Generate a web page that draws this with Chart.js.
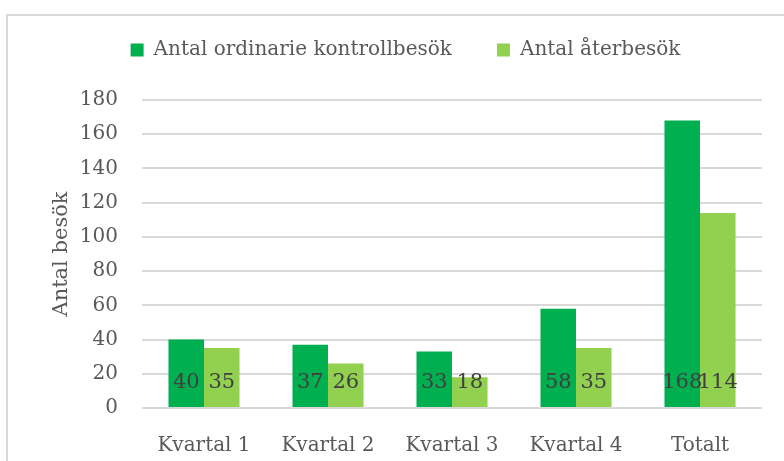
<!DOCTYPE html>
<html>
<head>
<meta charset="utf-8">
<script src="https://cdn.jsdelivr.net/npm/chart.js@4"></script>
<style>
  body { margin: 0; background: #fff; }
  #wrap { position: relative; width: 784px; height: 461px; overflow: hidden; }
  #frame { position: absolute; left: 6px; top: 14px; width: 820px; height: 480px; border: 2px solid #d9d9d9; box-sizing: border-box; }
  canvas { position: absolute; left: 0; top: 0; }
</style>
</head>
<body>
<div id="wrap">
  <div id="frame"></div>
  <canvas id="chart" width="784" height="461"></canvas>
</div>
<script>
const categories = ['Kvartal 1', 'Kvartal 2', 'Kvartal 3', 'Kvartal 4', 'Totalt'];
const ordinarie = [40, 37, 33, 58, 168];
const aterbesok = [35, 26, 18, 35, 114];
const yTicks = [0, 20, 40, 60, 80, 100, 120, 140, 160, 180];

const serif = 'DejaVu Serif';
const textColor = '#595959';

// values drawn at the bottom of each bar (Excel "inside base")
const baseLabels = {
  id: 'baseLabels',
  afterDatasetsDraw(chart) {
    const ctx = chart.ctx;
    const zero = chart.scales.y.getPixelForValue(0);
    ctx.save();
    ctx.font = '21px "' + serif + '"';
    ctx.fillStyle = '#404040';
    ctx.textAlign = 'center';
    ctx.textBaseline = 'middle';
    chart.data.datasets.forEach((ds, i) => {
      chart.getDatasetMeta(i).data.forEach((bar, j) => {
        ctx.fillText(String(ds.data[j]), bar.x, zero - 25);
      });
    });
    ctx.restore();
  }
};

// fix legend height so the plot area starts where it does in the reference
const legendHeight = {
  id: 'legendHeight',
  beforeInit(chart) {
    const fit = chart.legend.fit;
    chart.legend.fit = function () {
      fit.call(chart.legend);
      this.height = 105;
    };
  }
};

new Chart(document.getElementById('chart'), {
  type: 'bar',
  data: {
    labels: categories,
    datasets: [
      { label: 'Antal ordinarie kontrollbesök', data: ordinarie, backgroundColor: '#00B050' },
      { label: 'Antal återbesök', data: aterbesok, backgroundColor: '#92D050' }
    ]
  },
  options: {
    responsive: false,
    animation: false,
    layout: { padding: { top: -5, left: 49, right: 22, bottom: 0 } },
    datasets: { bar: { categoryPercentage: 0.573, barPercentage: 1 } },
    plugins: {
      legend: {
        position: 'top',
        labels: {
          boxWidth: 13,
          boxHeight: 13,
          padding: 45,
          color: textColor,
          font: { family: serif, size: 20 }
        }
      },
      tooltip: { enabled: false }
    },
    scales: {
      x: {
        grid: { display: false },
        border: { display: false },
        ticks: { color: textColor, padding: 18, font: { family: serif, size: 20 } },
        afterFit(scale) { scale.height = 53; }
      },
      y: {
        min: 0,
        max: 180,
        afterBuildTicks(scale) { scale.ticks = yTicks.map(v => ({ value: v })); },
        grid: { color: '#d9d9d9', lineWidth: 2, drawTicks: false },
        border: { display: false },
        ticks: { color: textColor, padding: 24, font: { family: serif, size: 20 } },
        title: {
          display: true,
          text: 'Antal besök',
          color: textColor,
          padding: { top: 0, bottom: 0 },
          font: { family: serif, size: 21 }
        },
        afterFit(scale) { scale.width = 93; }
      }
    }
  },
  plugins: [baseLabels, legendHeight]
});
</script>
</body>
</html>
